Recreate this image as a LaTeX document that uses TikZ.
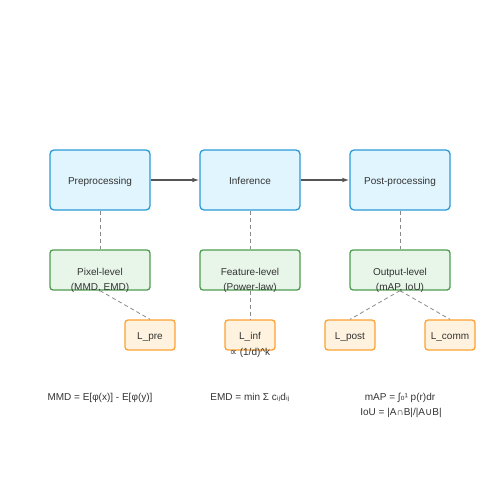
\documentclass[tikz,border=0pt]{standalone}
\usepackage{fontspec}
\setmainfont{Liberation Sans}
\newfontfamily\symfont{DejaVu Sans}
\usetikzlibrary{arrows.meta}
\definecolor{stageline}{HTML}{2A9AD8}
\definecolor{stagefill}{HTML}{E1F5FE}
\definecolor{levelline}{HTML}{4E9D50}
\definecolor{levelfill}{HTML}{E8F5E9}
\definecolor{lossline}{HTML}{FBA232}
\definecolor{lossfill}{HTML}{FFF3E0}
\definecolor{txt}{HTML}{333333}
\definecolor{arrowgray}{HTML}{555555}
\definecolor{dashgray}{HTML}{8A8A8A}

\begin{document}
\begin{tikzpicture}[x=1pt,y=-1pt,
		every node/.style={text=txt,font=\fontsize{10}{15}\selectfont},
		stage/.style={draw=stageline,fill=stagefill,rounded corners=4,line width=1.3,minimum width=100,minimum height=60,text height=9.5,text depth=0},
		level/.style={draw=levelline,fill=levelfill,rounded corners=3,line width=1.3,minimum width=100,minimum height=40},
		loss/.style={draw=lossline,fill=lossfill,rounded corners=3,line width=1.3,minimum width=50,minimum height=30,text height=9.5,text depth=0},
		flow/.style={draw=arrowgray,line width=1.1,-{Latex[length=7,width=4.5]}},
		link/.style={draw=dashgray,line width=0.8,dash pattern=on 4 off 3}]

		\useasboundingbox (0,0) rectangle (500,500);

		% stages
		\node[stage] (pre)  at (100,180) {Preprocessing};
		\node[stage] (inf)  at (250,180) {Inference};
		\node[stage] (post) at (400,180) {Post-processing};

		\draw[flow] (pre) -- (inf);
		\draw[flow] (inf) -- (post);

		% levels
		\node[level] (pix)  at (100,270) {};
		\node[level] (feat) at (250,270) {};
		\node[level] (out)  at (400,270) {};

		\draw[link] (pre) -- (pix);
		\draw[link] (inf) -- (feat);
		\draw[link] (post) -- (out);

		% losses
		\node[loss] (lpre)  at (150,335) {L\_pre};
		\node[loss] (linf)  at (250,335) {L\_inf};
		\node[loss] (lpost) at (350,335) {L\_post};
		\node[loss] (lcomm) at (450,335) {L\_comm};

		\draw[link] (pix.south) -- (lpre.north);
		\draw[link] (feat.south) -- (linf.north);
		\draw[link] (out.south) -- (lpost.north);
		\draw[link] (out.south) -- (lcomm.north);

		\node[align=center] (pixt)  at (100,280) {Pixel-level\\(MMD, EMD)};
		\node[align=center] (featt) at (250,280) {Feature-level\\(Power-law)};
		\node[align=center] (outt)  at (400,280) {Output-level\\(mAP, IoU)};
		\node (linft) at (250,352.5) {{\symfont ∝} (1/d)\textasciicircum k};

		% metrics
		\node (mmd) at (100,397.5) {MMD = E[φ(x)] - E[φ(y)]};
		\node (emd) at (250,397.5) {EMD = min Σ c{\symfont ᵢⱼ}d{\symfont ᵢⱼ}};
		\node (map) at (400,397.5) {mAP = ∫{\symfont ₀}¹ p(r)dr};
		\node (iou) at (401,412.5) {IoU = |A∩B|/|A{\symfont ∪}B|};

\end{tikzpicture}
\end{document}
